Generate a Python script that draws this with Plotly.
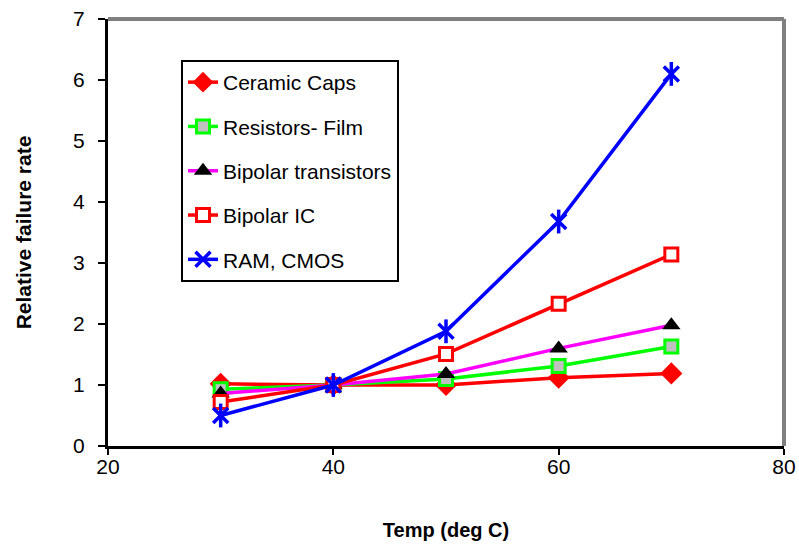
import plotly.graph_objects as go

# Temperature points (deg C)
temps = [30, 40, 50, 60, 70]

# Relative failure rate per component family (normalised to 1.0 at 40 C)
ceramic_caps = [1.02, 1.0, 1.0, 1.12, 1.19]
resistors_film = [0.93, 1.0, 1.1, 1.31, 1.63]
bipolar_transistors = [0.86, 1.0, 1.18, 1.6, 1.98]
bipolar_ic = [0.72, 1.0, 1.51, 2.33, 3.14]
ram_cmos = [0.5, 1.0, 1.88, 3.68, 6.1]

x_ticks = [20, 40, 60, 80]
y_ticks = [0, 1, 2, 3, 4, 5, 6, 7]

FONT = "Liberation Sans, Arial, sans-serif"
LW = 3.5

fig = go.Figure()

fig.add_trace(go.Scatter(
    x=temps, y=ceramic_caps, name="Ceramic Caps", legendgroup="a",
    mode="lines+markers",
    line=dict(color="#ff0000", width=LW),
    marker=dict(symbol="diamond", size=17, color="#ff0000",
                line=dict(width=0)),
))
fig.add_trace(go.Scatter(
    x=temps, y=resistors_film, name="Resistors- Film", legendgroup="b",
    mode="lines+markers",
    line=dict(color="#00ff00", width=LW),
    marker=dict(symbol="square", size=13, color="#c0c0c0",
                line=dict(color="#00ff00", width=3)),
))
fig.add_trace(go.Scatter(
    x=temps, y=bipolar_transistors, name="Bipolar transistors",
    legendgroup="c", mode="lines+markers",
    line=dict(color="#ff00ff", width=LW),
    marker=dict(symbol="triangle-up", size=16, color="#000000",
                line=dict(width=0)),
))
fig.add_trace(go.Scatter(
    x=temps, y=bipolar_ic, name="Bipolar IC", legendgroup="d",
    mode="lines+markers",
    line=dict(color="#ff0000", width=LW),
    marker=dict(symbol="square", size=13, color="#ffffff",
                line=dict(color="#ff0000", width=3)),
))
fig.add_trace(go.Scatter(
    x=temps, y=ram_cmos, name="RAM, CMOS", legendgroup="e",
    mode="lines+markers",
    line=dict(color="#0000ff", width=LW),
    marker=dict(symbol="x-thin-open", size=15, color="#0000ff",
                line=dict(color="#0000ff", width=3.5)),
))
# vertical stroke of the star marker
fig.add_trace(go.Scatter(
    x=temps, y=ram_cmos, legendgroup="e", showlegend=False,
    mode="markers", hoverinfo="skip",
    marker=dict(symbol="line-ns-open", size=17, color="#0000ff",
                line=dict(color="#0000ff", width=3.5)),
))

fig.update_layout(
    width=799, height=546,
    margin=dict(l=108, r=15, t=19, b=100),
    paper_bgcolor="white", plot_bgcolor="white",
    font=dict(family=FONT, color="black"),
    showlegend=True,
    legend=dict(
        x=0.108, y=0.904, xanchor="left", yanchor="top",
        bgcolor="white", bordercolor="black", borderwidth=2,
        font=dict(family=FONT, size=21, color="black"),
        tracegroupgap=14,
    ),
    xaxis=dict(
        range=[20, 80], tickvals=x_ticks, ticktext=[str(v) for v in x_ticks],
        showgrid=False, zeroline=False, automargin=False,
        showline=True, linecolor="black", linewidth=3,
        ticks="outside", ticklen=6, tickwidth=2, tickcolor="black",
        ticklabelstandoff=-6,
        tickfont=dict(family=FONT, size=21, color="black"),
        title=dict(text="<b>Temp (deg C)</b>", standoff=46,
                   font=dict(family=FONT, size=20, color="black")),
    ),
    yaxis=dict(
        range=[0, 7], tickvals=y_ticks, ticktext=[str(v) for v in y_ticks],
        showgrid=False, zeroline=False, automargin=False,
        showline=True, linecolor="black", linewidth=3,
        ticks="outside", ticklen=7, tickwidth=2, tickcolor="black",
        ticklabelstandoff=9,
        tickfont=dict(family=FONT, size=21, color="black"),
        title=dict(text="<b>Relative failure rate</b>", standoff=36,
                   font=dict(family=FONT, size=21, color="black")),
    ),
    shapes=[
        # gray top and right frame of the plot area
        dict(type="line", xref="paper", yref="paper", x0=0, x1=1, y0=1, y1=1,
             line=dict(color="#808080", width=4), layer="below"),
        dict(type="line", xref="paper", yref="paper", x0=1, x1=1, y0=0, y1=1,
             line=dict(color="#808080", width=4), layer="below"),
    ],
)

fig.write_html("out.html")
